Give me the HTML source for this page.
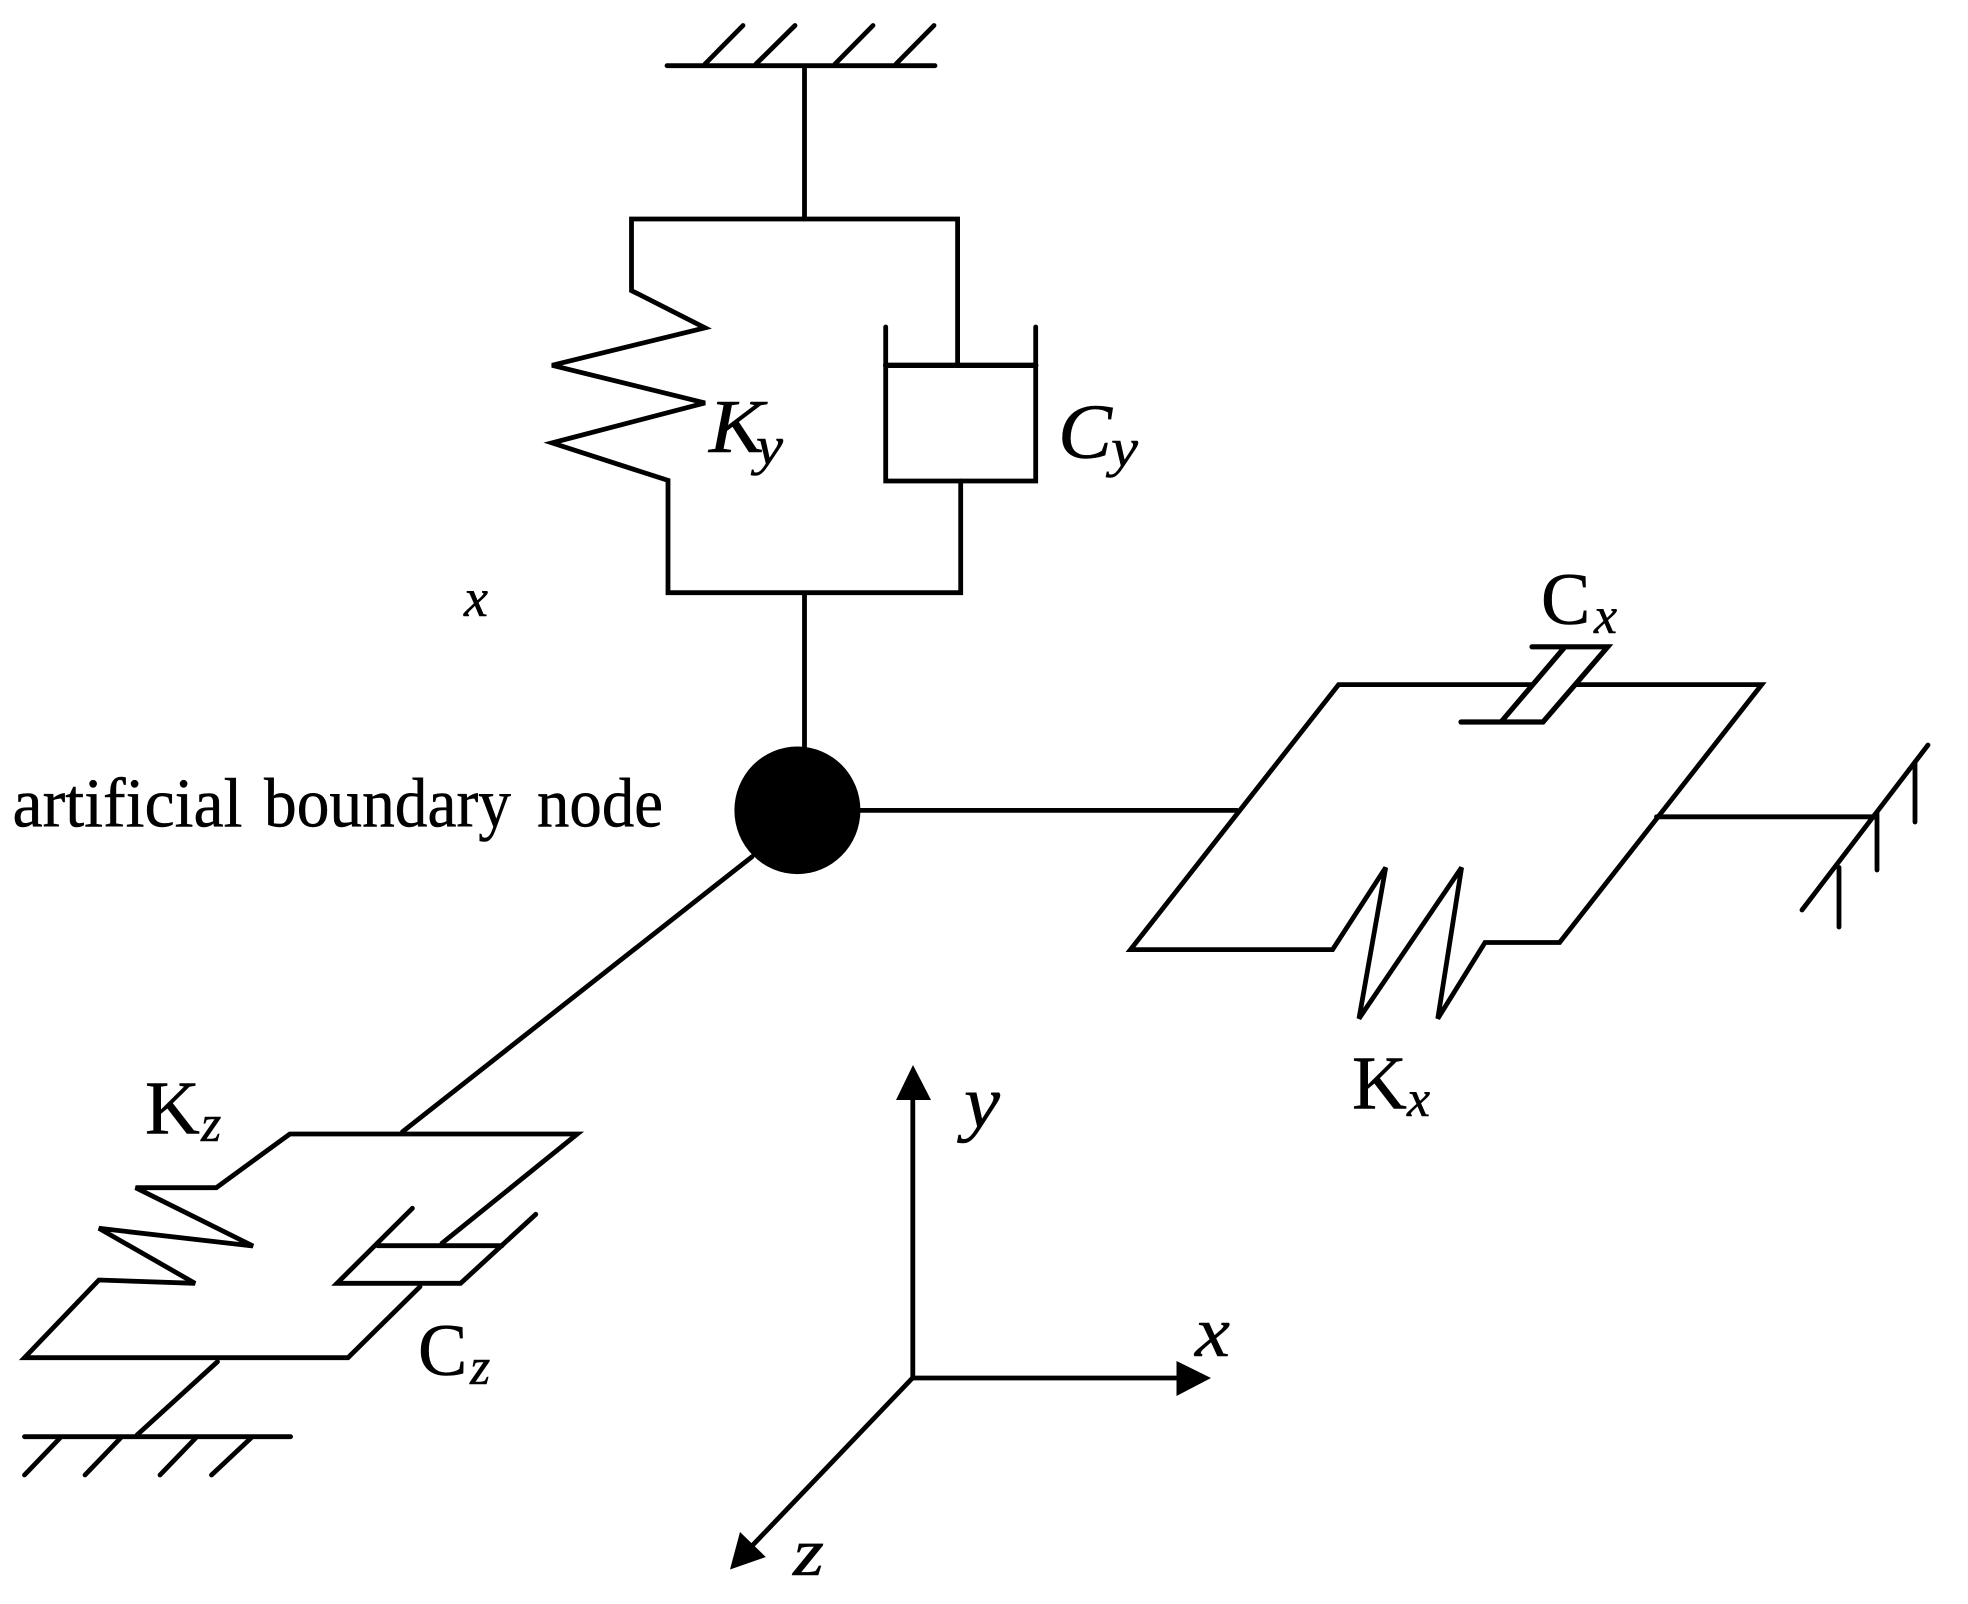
<!DOCTYPE html>
<html>
<head>
<meta charset="utf-8">
<style>
html,body{margin:0;padding:0;background:#fff;width:1968px;height:1604px;overflow:hidden}
svg{display:block}
text{font-family:"Liberation Serif","Times New Roman",serif;fill:#000;stroke:#000;stroke-width:.5}
.i{font-style:italic}
</style>
</head>
<body>
<svg width="1968" height="1604" viewBox="0 0 1968 1604" xmlns="http://www.w3.org/2000/svg">
<rect width="1968" height="1604" fill="#fff"/>
<g fill="none" stroke="#000" stroke-width="4.8" stroke-linejoin="miter" stroke-linecap="round">
<!-- top ground -->
<path d="M667 65.7H935"/>
<path d="M705 64L743 25.5M756 64L795 25.5M835 64L873 25.5M896 64L934 25.5"/>
<path d="M804.5 66V219"/>
<!-- Ky / Cy -->
<path d="M957.6 365.3V219H631.5V290.6L705 327.8L552 365.3L705 402.9L552 442.9L668 480.4V592.7H960.7V481"/>
<path d="M885.7 327V481H1035.7V327"/>
<path d="M885.7 365.3H1035.7" stroke-width="5.4"/>
<path d="M804.5 593V750"/>
<!-- X plate -->
<path d="M860 810.4H1237"/>
<path d="M1532 684.6H1338.6L1130.5 949.6H1332.6L1385.7 867.5L1359 1018.6L1461.6 867.5L1437.8 1018.6L1485 942.5H1559.6L1761.7 684.6H1576"/>
<path d="M1532 646.8H1607.7L1543 722H1461M1501 722L1565 646.8" stroke-width="5.2"/>
<path d="M1656.5 816.8H1875"/>
<path d="M1928 745L1802 910"/>
<path d="M1915 762V822M1877 812V870M1839 867.5V927"/>
<!-- Z plate -->
<path d="M752 856.7L402.5 1131.7"/>
<path d="M442 1243.3L577.3 1134H289.8L216.3 1187.7H135.6L253 1246L98.9 1228.3L195 1283.3L98.9 1280L24.5 1357.7H348L420 1286.7"/>
<path d="M412.4 1208.3L337 1283.3H460.6L535.8 1214.3"/>
<path d="M377.6 1245.7H502"/>
<path d="M217.5 1361.7L137 1435"/>
<path d="M24.5 1436.7H290.6"/>
<path d="M60 1438L24.5 1475M120.6 1438L85 1475M195.7 1438L160 1475M251 1438L211.5 1475"/>
<!-- axes -->
<path d="M912.8 1378V1095" stroke-linecap="butt"/>
<path d="M911 1378H1180" stroke-linecap="butt"/>
<path d="M912.5 1378L750 1548" stroke-linecap="butt"/>
</g>
<polygon points="913,1065 931,1100 896,1100" fill="#000"/>
<polygon points="1211,1378 1176.5,1361 1176.5,1396" fill="#000"/>
<polygon points="730,1569.5 740,1532 765.8,1557" fill="#000"/>
<ellipse cx="797.4" cy="810.3" rx="63" ry="63.8" fill="#000"/>

<!-- labels -->
<text x="12.5" y="826.7" font-size="70" textLength="230" lengthAdjust="spacingAndGlyphs">artificial</text>
<text x="264" y="826.7" font-size="70" textLength="247" lengthAdjust="spacingAndGlyphs">boundary</text>
<text x="537" y="826.7" font-size="70" textLength="126" lengthAdjust="spacingAndGlyphs">node</text>
<text class="i" x="464" y="616" font-size="54" textLength="24" lengthAdjust="spacingAndGlyphs">x</text>

<text class="i" x="709" y="452" font-size="76" textLength="55" lengthAdjust="spacingAndGlyphs">K</text>
<text class="i" x="756" y="464" font-size="54" textLength="27" lengthAdjust="spacingAndGlyphs">y</text>
<text class="i" x="1058" y="458" font-size="78" textLength="54" lengthAdjust="spacingAndGlyphs">C</text>
<text class="i" x="1111" y="466" font-size="54" textLength="27" lengthAdjust="spacingAndGlyphs">y</text>

<text x="1541" y="624" font-size="74">C</text>
<text class="i" x="1594" y="633" font-size="52">x</text>

<text x="1352" y="1108.6" font-size="76">K</text>
<text class="i" x="1407" y="1116" font-size="52">x</text>

<text x="145" y="1133.5" font-size="76">K</text>
<text class="i" x="201" y="1141" font-size="52">z</text>

<text x="418" y="1375" font-size="74">C</text>
<text class="i" x="470" y="1384" font-size="52">z</text>

<text class="i" x="964" y="1127" font-size="74" textLength="36" lengthAdjust="spacingAndGlyphs">y</text>
<text class="i" x="1195" y="1356" font-size="72" textLength="35" lengthAdjust="spacingAndGlyphs">x</text>
<text class="i" x="793" y="1575" font-size="68" textLength="31" lengthAdjust="spacingAndGlyphs">z</text>
</svg>
</body>
</html>
